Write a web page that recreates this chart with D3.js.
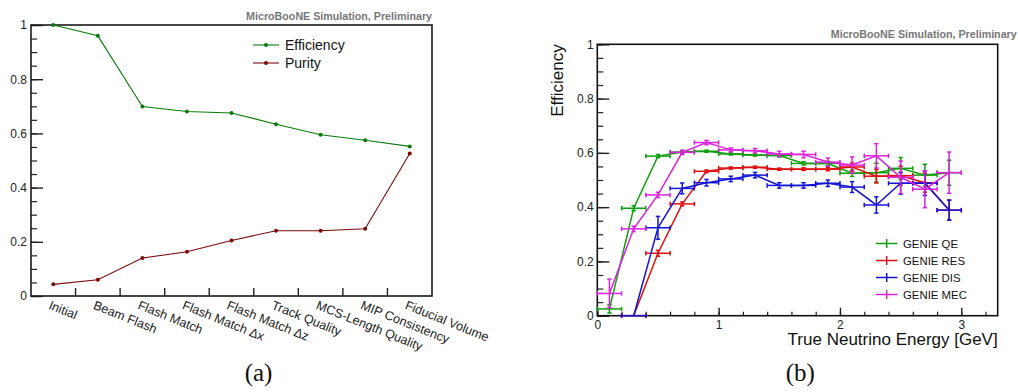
<!DOCTYPE html>
<html>
<head>
<meta charset="utf-8">
<script src="https://cdn.jsdelivr.net/npm/d3@7"></script>
<style>
  html, body { margin: 0; padding: 0; background: #fff; }
  svg { display: block; font-family: "Liberation Sans", Arial, sans-serif; }
</style>
</head>
<body>
<svg id="chart" width="1018" height="392"></svg>
<script>
// ---------- Panel (a) data ----------
const cutCategories = ["Initial", "Beam Flash", "Flash Match", "Flash Match \u0394x", "Flash Match \u0394z",
  "Track Quality", "MCS-Length Quality", "MIP Consistency", "Fiducial Volume"];
const efficiencyValues = [1.0, 0.960, 0.699, 0.681, 0.675, 0.634, 0.595, 0.575, 0.552];
const purityValues = [0.043, 0.060, 0.140, 0.163, 0.205, 0.241, 0.241, 0.248, 0.526];
const yTicksA = [0, 0.2, 0.4, 0.6, 0.8, 1];
const legendA = ["Efficiency", "Purity"];

// ---------- Panel (b) data ----------
const energyBins = [0.1, 0.3, 0.5, 0.7, 0.9, 1.1, 1.3, 1.5, 1.7, 1.9, 2.1, 2.3, 2.5, 2.7, 2.9];
const binHalfWidth = 0.1;
const qeValues  = [0.025, 0.396, 0.588, 0.603, 0.606, 0.596, 0.592, 0.590, 0.561, 0.561, 0.525, 0.527, 0.543, 0.518, 0.527];
const qeErrors  = [0.015, 0.009, 0.006, 0.005, 0.004, 0.004, 0.004, 0.005, 0.006, 0.008, 0.012, 0.035, 0.040, 0.040, 0.046];
const resValues = [null, 0, 0.230, 0.412, 0.532, 0.544, 0.547, 0.540, 0.540, 0.540, 0.548, 0.514, 0.516, 0.490, 0.389];
const resErrors = [null, 0, 0.011, 0.007, 0.005, 0.004, 0.004, 0.004, 0.005, 0.006, 0.015, 0.025, 0.035, 0.035, 0.037];
const disValues = [null, 0, 0.324, 0.469, 0.490, 0.504, 0.518, 0.480, 0.480, 0.488, 0.474, 0.408, 0.488, 0.488, 0.389];
const disErrors = [null, 0, 0.042, 0.020, 0.012, 0.010, 0.010, 0.010, 0.010, 0.012, 0.020, 0.030, 0.040, 0.045, 0.037];
const mecValues = [0.082, 0.320, 0.445, 0.602, 0.638, 0.611, 0.608, 0.596, 0.594, 0.566, 0.555, 0.589, 0.510, 0.466, 0.527];
const mecErrors = [0.053, 0.010, 0.010, 0.008, 0.008, 0.007, 0.008, 0.010, 0.012, 0.015, 0.030, 0.045, 0.060, 0.068, 0.076];
const seriesNamesB = ["GENIE QE", "GENIE RES", "GENIE DIS", "GENIE MEC"];
const xTicksB = [0, 1, 2, 3];
const yTicksB = [0, 0.2, 0.4, 0.6, 0.8, 1];

const SANS = "'Liberation Sans', Arial, sans-serif";
const SERIF = "'Liberation Serif', 'Times New Roman', serif";
const svg = d3.select("#chart");

// =================== Panel (a) ===================
const A = { left: 31, right: 432, top: 25, bottom: 296 };
const xA = d3.scaleBand().domain(cutCategories).range([A.left, A.right]).padding(0);
const yA = d3.scaleLinear().domain([0, 1]).range([A.bottom, A.top]);
const cx = c => xA(c) + xA.bandwidth() / 2;
const gA = svg.append("g");

// minor y ticks
gA.append("g").attr("transform", `translate(${A.left},0)`)
  .call(d3.axisLeft(yA).tickValues(d3.range(0, 1.0001, 0.05)).tickSize(-6).tickFormat(""))
  .call(g => g.select(".domain").remove())
  .call(g => g.selectAll("line").attr("stroke", "#222").attr("stroke-width", 1.2));
// major y ticks
gA.append("g").attr("transform", `translate(${A.left},0)`)
  .call(d3.axisLeft(yA).tickValues(yTicksA).tickSize(-12).tickPadding(4).tickFormat(d3.format("~g")))
  .call(g => g.select(".domain").remove())
  .call(g => g.selectAll("line").attr("stroke", "#222").attr("stroke-width", 1.4))
  .call(g => g.selectAll("text").style("font-size", "12px").attr("fill", "#222").style("font-family", SANS));
// x ticks at category boundaries
const boundaries = cutCategories.slice(1).map(c => xA(c));
gA.append("g").selectAll("line").data(boundaries).join("line")
  .attr("x1", d => d).attr("x2", d => d)
  .attr("y1", A.bottom).attr("y2", A.bottom - 8)
  .attr("stroke", "#222").attr("stroke-width", 1.4);
// frame
gA.append("rect").attr("x", A.left).attr("y", A.top)
  .attr("width", A.right - A.left).attr("height", A.bottom - A.top)
  .attr("fill", "none").attr("stroke", "#1a1a1a").attr("stroke-width", 1.6);
// x category labels
gA.append("g").selectAll("text").data(cutCategories).join("text")
  .attr("transform", d => `translate(${cx(d) - 2},${A.bottom + 4}) rotate(22)`)
  .attr("dy", "0.72em")
  .style("font-size", "12.6px").attr("fill", "#222")
  .text(d => d);

// lines
const lineA = d3.line().x((d, i) => cx(cutCategories[i])).y(d => yA(d));
const colA = { eff: "#0a7a0a", pur: "#7a0a0a" };
[[efficiencyValues, colA.eff], [purityValues, colA.pur]].forEach(([vals, col]) => {
  gA.append("path").attr("d", lineA(vals)).attr("fill", "none")
    .attr("stroke", col).attr("stroke-width", 1.1);
  gA.append("g").selectAll("circle").data(vals).join("circle")
    .attr("cx", (d, i) => cx(cutCategories[i])).attr("cy", d => yA(d))
    .attr("r", 2).attr("fill", col);
});
// legend a
const legA = gA.append("g");
legendA.forEach((name, i) => {
  const col = i === 0 ? colA.eff : colA.pur;
  const y = 45 + i * 18;
  legA.append("line").attr("x1", 253).attr("x2", 279).attr("y1", y).attr("y2", y)
    .attr("stroke", col).attr("stroke-width", 1.1);
  legA.append("circle").attr("cx", 266).attr("cy", y).attr("r", 2).attr("fill", col);
  legA.append("text").attr("x", 285).attr("y", y).attr("dy", "0.35em")
    .style("font-size", "14px").attr("fill", "#111").text(name);
});
// header a
gA.append("text").attr("x", A.right).attr("y", 20.4).attr("text-anchor", "end")
  .style("font-size", "10.7px").style("font-weight", "bold").attr("fill", "#777")
  .text("MicroBooNE Simulation, Preliminary");
// (a)
svg.append("text").attr("x", 258.5).attr("y", 381).attr("text-anchor", "middle")
  .style("font-family", SERIF).style("font-size", "25px")
  .attr("fill", "#111").text("(a)");

// =================== Panel (b) ===================
const B = { left: 597.3, right: 997.7, top: 44.3, bottom: 315.7 };
const xB = d3.scaleLinear().domain([0, 3.3]).range([B.left, B.right]);
const yB = d3.scaleLinear().domain([0, 1]).range([B.bottom, B.top]);
const gB = svg.append("g");

// y minor
gB.append("g").attr("transform", `translate(${B.left},0)`)
  .call(d3.axisLeft(yB).tickValues(d3.range(0, 1.0001, 0.05)).tickSize(-6).tickFormat(""))
  .call(g => g.select(".domain").remove())
  .call(g => g.selectAll("line").attr("stroke", "#222").attr("stroke-width", 1.2));
// y major
gB.append("g").attr("transform", `translate(${B.left},0)`)
  .call(d3.axisLeft(yB).tickValues(yTicksB).tickSize(-12).tickPadding(3.5).tickFormat(d3.format("~g")))
  .call(g => g.select(".domain").remove())
  .call(g => g.selectAll("line").attr("stroke", "#222").attr("stroke-width", 1.4))
  .call(g => g.selectAll("text").style("font-size", "12px").attr("fill", "#222").style("font-family", SANS));
// x minor
gB.append("g").attr("transform", `translate(0,${B.bottom})`)
  .call(d3.axisBottom(xB).tickValues(d3.range(0, 3.2001, 0.2)).tickSize(-4).tickFormat(""))
  .call(g => g.select(".domain").remove())
  .call(g => g.selectAll("line").attr("stroke", "#222").attr("stroke-width", 1.2));
// x major
gB.append("g").attr("transform", `translate(0,${B.bottom})`)
  .call(d3.axisBottom(xB).tickValues(xTicksB).tickSize(-8).tickPadding(4.3).tickFormat(d3.format("~g")))
  .call(g => g.select(".domain").remove())
  .call(g => g.selectAll("line").attr("stroke", "#222").attr("stroke-width", 1.4))
  .call(g => g.selectAll("text").style("font-size", "12px").attr("fill", "#222").style("font-family", SANS));
// frame
gB.append("rect").attr("x", B.left).attr("y", B.top)
  .attr("width", B.right - B.left).attr("height", B.bottom - B.top)
  .attr("fill", "none").attr("stroke", "#111").attr("stroke-width", 1.6);

// series
const colorsB = ["#0f9f0f", "#e01010", "#1414d8", "#dd22dd"];
const seriesB = [[qeValues, qeErrors], [resValues, resErrors], [disValues, disErrors], [mecValues, mecErrors]];
seriesB.forEach(([vals, errs], si) => {
  const col = colorsB[si];
  const pts = energyBins.map((e, i) => ({ e, v: vals[i], err: errs[i] })).filter(p => p.v !== null);
  const g = gB.append("g").attr("stroke", col).attr("fill", "none").attr("stroke-width", 1.5);
  g.append("path").attr("d", d3.line().x(p => xB(p.e)).y(p => yB(p.v))(pts));
  pts.forEach(p => {
    const x0 = xB(p.e - binHalfWidth), x1 = xB(p.e + binHalfWidth), xc = xB(p.e), yc = yB(p.v);
    g.append("line").attr("x1", x0).attr("x2", x1).attr("y1", yc).attr("y2", yc);
    g.append("line").attr("x1", x0).attr("x2", x0).attr("y1", yc - 2.2).attr("y2", yc + 2.2);
    g.append("line").attr("x1", x1).attr("x2", x1).attr("y1", yc - 2.2).attr("y2", yc + 2.2);
    if (p.err > 0) {
      const yt = yB(p.v + p.err), yb = yB(p.v - p.err);
      g.append("line").attr("x1", xc).attr("x2", xc).attr("y1", yt).attr("y2", yb);
      g.append("line").attr("x1", xc - 2.2).attr("x2", xc + 2.2).attr("y1", yt).attr("y2", yt);
      g.append("line").attr("x1", xc - 2.2).attr("x2", xc + 2.2).attr("y1", yb).attr("y2", yb);
    }
  });
});

// legend b
seriesNamesB.forEach((name, i) => {
  const y = 243.5 + i * 17;
  const g = gB.append("g").attr("stroke", colorsB[i]).attr("stroke-width", 1.5);
  g.append("line").attr("x1", 876).attr("x2", 897.5).attr("y1", y).attr("y2", y);
  g.append("line").attr("x1", 886.7).attr("x2", 886.7).attr("y1", y - 4.5).attr("y2", y + 4.5);
  gB.append("text").attr("x", 903).attr("y", y).attr("dy", "0.36em")
    .style("font-size", "11.4px").attr("fill", "#111").text(name);
});

// axis titles
gB.append("text").attr("x", B.right).attr("y", 345).attr("text-anchor", "end")
  .style("font-size", "17px").attr("fill", "#111").text("True Neutrino Energy [GeV]");
gB.append("text").attr("transform", `translate(562.5,${B.top}) rotate(-90)`)
  .attr("text-anchor", "end").style("font-size", "17px").attr("fill", "#111").text("Efficiency");
// header b
gB.append("text").attr("x", 1016.7).attr("y", 37.7).attr("text-anchor", "end")
  .style("font-size", "10.7px").style("font-weight", "bold").attr("fill", "#777")
  .text("MicroBooNE Simulation, Preliminary");
// (b)
svg.append("text").attr("x", 800.3).attr("y", 381).attr("text-anchor", "middle")
  .style("font-family", SERIF).style("font-size", "25px")
  .attr("fill", "#111").text("(b)");
</script>
</body>
</html>
